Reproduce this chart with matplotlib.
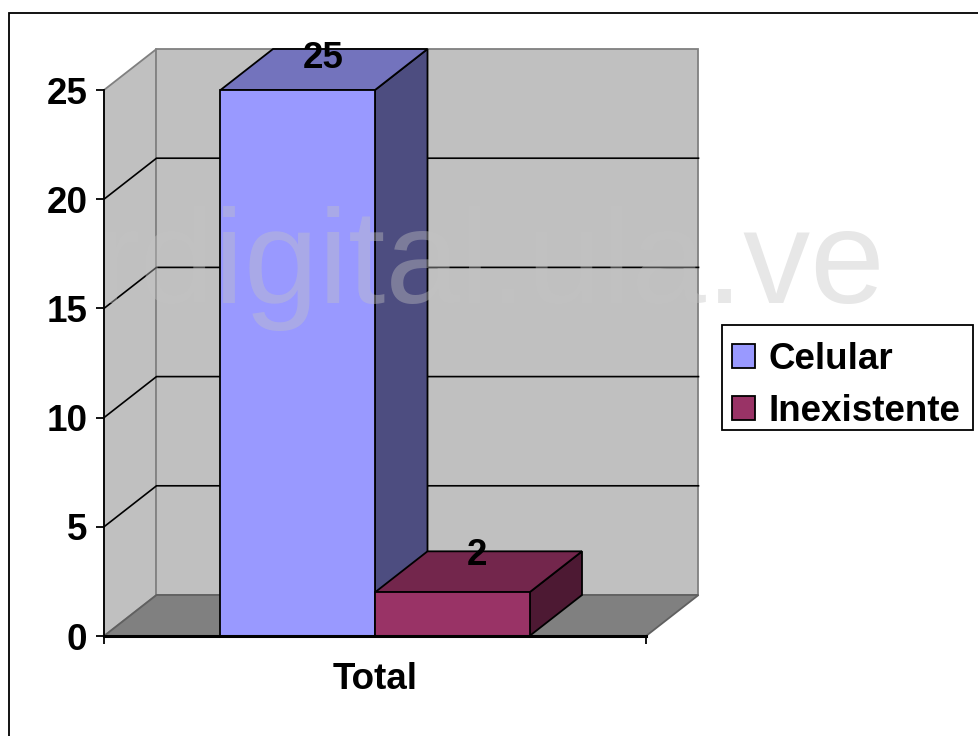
#!/usr/bin/env python3
import matplotlib
matplotlib.use("Agg")
import matplotlib.pyplot as plt
from matplotlib.patches import Patch, Polygon, Rectangle

plt.rcParams['font.family'] = ['Liberation Sans', 'DejaVu Sans']

# Donnees
categories = ["Total"]
series_names = ["Celular", "Inexistente"]
series_values = [25, 2]
yticks = [0, 5, 10, 15, 20, 25]

front_colors = ["#9999ff", "#993366"]
top_colors = ["#7373bd", "#73264c"]
side_colors = ["#4d4d80", "#4d1933"]

W, H = 979, 736
FS = 26.5
fig = plt.figure(figsize=(W / 100, H / 100), dpi=100, facecolor="white")
# plan avant du graphique 3D, en pixels
left, right, top, bottom = 104, 646, 90, 636
ax = fig.add_axes([left / W, 1 - bottom / H, (right - left) / W, (bottom - top) / H])
ax.set_xlim(0, 1)
ax.set_ylim(0, 25)
ax.patch.set_visible(False)

# profondeur 3D exprimee en unites des axes
dx = 52.5 / (right - left)
dy = 41 / (bottom - top) * 25
bar_w = 154.5 / (right - left)
bar_start = 0.5 - bar_w * len(series_values) / 2
label_lift = [0.78, 0.90]  # position des etiquettes, en fraction de dy


def face(points, color, edge, lw=1.3, z=1):
    ax.add_patch(Polygon(points, closed=True, facecolor=color, edgecolor=edge,
                         linewidth=lw, zorder=z, clip_on=False))


# murs et sol
ymax = yticks[-1]
face([(0, 0), (dx, dy), (dx, ymax + dy), (0, ymax)], "#c0c0c0", "#808080", z=1)
face([(dx, dy), (1 + dx, dy), (1 + dx, ymax + dy), (dx, ymax + dy)], "#c0c0c0", "#808080", z=1)
face([(0, 0), (1, 0), (1 + dx, dy), (dx, dy)], "#808080", "#606060", z=1)

# grille
for v in yticks[1:-1]:
    ax.plot([0, dx, 1 + dx], [v, v + dy, v + dy], color="black", lw=1.2, zorder=2,
            clip_on=False, solid_joinstyle="miter")

# barres
for i, (val, name) in enumerate(zip(series_values, series_names)):
    x0 = bar_start + i * bar_w
    x1 = x0 + bar_w
    z = 3 + i
    face([(x1, 0), (x1 + dx, dy), (x1 + dx, val + dy), (x1, val)], side_colors[i], "black", z=z)
    face([(x0, val), (x1, val), (x1 + dx, val + dy), (x0 + dx, val + dy)], top_colors[i], "black", z=z)
    ax.bar(x0, val, width=bar_w, align="edge", color=front_colors[i], edgecolor="black",
           linewidth=1.3, zorder=z, clip_on=False)
    ax.text((x0 + x1 + dx) / 2 - 0.002, val + dy * label_lift[i], str(val), ha="center", va="center",
            fontsize=FS, fontweight="bold", color="black", zorder=8, clip_on=False)

# axes
for s in ["top", "right"]:
    ax.spines[s].set_visible(False)
ax.spines["left"].set_linewidth(1.3)
ax.spines["left"].set_zorder(6)
ax.spines["bottom"].set_linewidth(2.2)
ax.spines["bottom"].set_zorder(6)
ax.set_yticks(yticks)
ax.tick_params(axis="y", length=6, width=1.3, pad=6, labelsize=FS)
ax.set_xticks([0, 1])
ax.set_xticklabels(["", ""])
ax.tick_params(axis="x", length=5.5, width=1.3)
ax.set_xticks([0.5], categories, minor=True)
ax.tick_params(axis="x", which="minor", length=0, pad=19, labelsize=FS)
for lab in ax.get_yticklabels() + ax.get_xticklabels(minor=True):
    lab.set_fontweight("bold")

# legende : cadre dessine a part pour descendre le contenu
fig.add_artist(Rectangle((722 / W, 1 - 430 / H), 251 / W, 105 / H, transform=fig.transFigure,
                         facecolor="none", edgecolor="black", linewidth=1.3))
handles = [Patch(facecolor=c, edgecolor="black", linewidth=1.3) for c in front_colors]
leg = ax.legend(handles, series_names, loc="center left",
                bbox_to_anchor=(722 / W, 1 - 385.5 / H), bbox_transform=fig.transFigure,
                prop={"size": FS, "weight": "bold"}, frameon=False,
                borderpad=0.28, labelspacing=0.45,
                handlelength=0.62, handleheight=0.62, handletextpad=0.36, borderaxespad=0)
leg.set_zorder(7)

# cadre exterieur
fig.add_artist(Rectangle((9 / W, -0.02), 1.02, 1.02 - 13 / H, transform=fig.transFigure,
                         facecolor="none", edgecolor="black", linewidth=1.3))

# filigrane
fig.text(96 / W, 1 - 303 / H, "rdigital.ula.ve", fontsize=96.5, color="#c3c3c3", alpha=0.4,
         ha="left", va="baseline", zorder=20)

fig.savefig("out.png", dpi=100)
